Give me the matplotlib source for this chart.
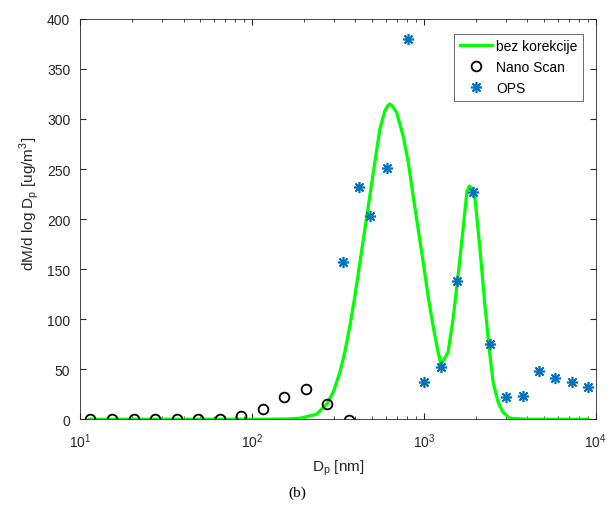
import numpy as np
import matplotlib.pyplot as plt

plt.rcParams['font.family'] = ['Liberation Sans', 'DejaVu Sans']

# bez korekcije (fitted curve)
fit_d = [11.3, 60, 120, 160, 190, 238, 272, 297, 325, 347, 371, 397, 425, 454, 485, 519, 555, 593,
         615, 634, 655, 693, 758, 811, 867, 927, 991, 1059, 1132, 1211, 1256, 1294, 1384, 1479, 1581, 1691,
         1783, 1840, 1880, 1980, 2117, 2263, 2420, 2530, 2705, 2891, 3162, 4000, 9000]
fit_m = [0, 0, 0, 0.3, 1, 5, 15, 27, 47, 67, 93, 123, 157, 190, 223, 257, 290, 308,
         313, 315, 313, 307, 283, 257, 223, 190, 157, 123, 93, 67, 55, 58, 67, 100, 143, 190,
         228, 233, 232, 222, 172, 115, 65, 37, 17, 7, 1, 0, 0]

# Nano Scan
ns_d = [11.5, 15.4, 20.5, 27.4, 36.5, 48.7, 64.9, 86.6, 115.5, 154, 205.4, 273.8, 365.2]
ns_m = [0.5, 0.5, 0.5, 0.5, 0.5, 0.5, 0.5, 3.3, 10, 22, 30.5, 15, -1]

# OPS
ops_d = [337, 421, 485, 612, 809, 1007, 1254, 1561, 1944, 2420, 3013, 3751, 4670, 5815, 7239, 9013]
ops_m = [157, 232, 203, 251, 380, 37, 52, 138, 227, 75, 22, 23, 48, 41, 37, 32]

fig = plt.figure(figsize=(6.11, 5.10), dpi=100)
ax = fig.add_axes([0.131, 0.176, 0.844, 0.785])

ax.plot(fit_d, fit_m, color='#00ff00', lw=2.3, label='bez korekcije')
ax.plot(ns_d, ns_m, 'o', mfc='none', mec='black', mew=1.3, ms=7, label='Nano Scan')
ax.plot(ops_d, ops_m, ls='none', marker=(8, 2, 0), color='#0072bd', mew=1.2, ms=8, label='OPS')

ax.set_xscale('log')
ax.set_xlim(10, 1e4)
ax.set_ylim(0, 400)
ax.set_yticks(np.arange(0, 401, 50))
ax.tick_params(which='both', direction='in', top=True, right=True, colors='#262626', labelsize=10)
ax.tick_params(which='major', length=4)
ax.tick_params(which='minor', length=2.5)
ax.tick_params(axis='x', which='both', pad=9)
ax.tick_params(axis='y', which='both', pad=7)
for s in ax.spines.values():
    s.set_color('#262626')
    s.set_linewidth(0.6)

ax.set_xlabel('D$_\\mathregular{p}$ [nm]', fontsize=11, color='#262626', labelpad=5)
ax.set_ylabel('dM/d log D$_\\mathregular{p}$ [ug/m$^\\mathregular{3}$]', fontsize=11, color='#262626')
ax.yaxis.set_label_coords(-0.075, 0.54)

leg = ax.legend(loc='upper right', bbox_to_anchor=(0.976, 0.963), fancybox=False, edgecolor='#262626',
                fontsize=10, handlelength=2.3, borderaxespad=0.0, labelspacing=0.5,
                borderpad=0.4, handletextpad=0.35)
leg.get_frame().set_linewidth(0.6)

fig.text(0.487, 0.025, '(b)', family='Liberation Serif', fontsize=11, ha='center')

fig.savefig('out.png', dpi=100)
